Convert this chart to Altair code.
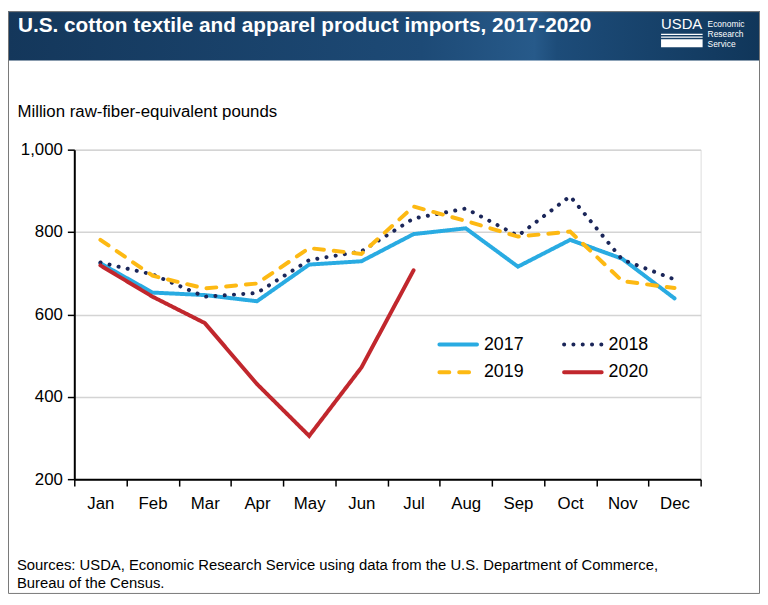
import altair as alt
import pandas as pd

# ---------------- data ----------------
MONTHS = ["Jan", "Feb", "Mar", "Apr", "May", "Jun", "Jul", "Aug", "Sep", "Oct", "Nov", "Dec"]
YEARS = ["2017", "2018", "2019", "2020"]
V2017 = [724, 653, 647, 632, 721, 729, 795, 809, 716, 781, 735, 639]
V2018 = [726, 697, 643, 652, 732, 753, 833, 857, 791, 887, 733, 685]
V2019 = [781, 694, 663, 675, 761, 747, 862, 827, 789, 801, 681, 664]
V2020 = [719, 643, 579, 431, 305, 471, 707]
Y_TICKS = [200, 400, 600, 800, 1000]

TITLE = "U.S. cotton textile and apparel product imports, 2017-2020"
Y_TITLE = "Million raw-fiber-equivalent pounds"
SOURCE_LINES = [
    "Sources: USDA, Economic Research Service using data from the U.S. Department of Commerce,",
    "Bureau of the Census.",
]
LOGO_MAIN = "USDA"
LOGO_SUB = ["Economic", "Research", "Service"]

SERIES = {"2017": V2017, "2018": V2018, "2019": V2019, "2020": V2020}
rows = []
for yr, vals in SERIES.items():
    for m, v in zip(MONTHS, vals):
        rows.append({"month": m, "year": yr, "value": v})
df = pd.DataFrame(rows)

# ---------------- styling ----------------
FONT = "Liberation Sans"
W, H = 633, 333
PAD = {"left": 67, "top": 140, "right": 60, "bottom": 124}

color_scale = alt.Scale(domain=YEARS, range=["#29abe2", "#1b2659", "#fdb913", "#c1272d"])
dash_scale = alt.Scale(domain=YEARS, range=[[1, 0], [0.1, 9.3], [10, 10], [1, 0]])


def one(**kw):
    return pd.DataFrame({k: [v] for k, v in kw.items()}) if kw else pd.DataFrame({"d": [0]})


# header band
grad = alt.LinearGradient(
    gradient="linear",
    stops=[
        alt.GradientStop(color="#14375b", offset=0),
        alt.GradientStop(color="#1d4a76", offset=0.55),
        alt.GradientStop(color="#275a8a", offset=0.7),
        alt.GradientStop(color="#1d4c79", offset=0.73),
        alt.GradientStop(color="#10365a", offset=1),
    ],
    x1=0, x2=1, y1=0, y2=0,
)
header = alt.Chart(one()).mark_rect(fill=grad).encode(
    x=alt.value(-67), x2=alt.value(693), y=alt.value(-140), y2=alt.value(-90)
)

border = alt.Chart(one()).mark_rect(fill="transparent", stroke="#777777", strokeWidth=1).encode(
    x=alt.value(-66.5), x2=alt.value(692.5), y=alt.value(-139.5), y2=alt.value(448.5)
)

title = alt.Chart(one(t=TITLE)).mark_text(
    align="left", baseline="alphabetic", font=FONT, fontSize=21, fontWeight="bold", color="white"
).encode(x=alt.value(-57), y=alt.value(-118.5), text="t:N")

logo_txt = alt.Chart(one(t=LOGO_MAIN)).mark_text(
    align="left", baseline="alphabetic", font=FONT, fontSize=15, color="white"
).encode(x=alt.value(593), y=alt.value(-121.5), text="t:N")

swoosh = [
    alt.Chart(one()).mark_rule(color="white", strokeWidth=1.2).encode(
        x=alt.value(593), x2=alt.value(635), y=alt.value(yy)
    )
    for yy in (-116.5, -113.8)
] + [
    alt.Chart(one()).mark_rect(color="white").encode(
        x=alt.value(593), x2=alt.value(635), y=alt.value(-111.5), y2=alt.value(-103.5)
    )
]

logo_sub = [
    alt.Chart(one(t=s)).mark_text(
        align="left", baseline="alphabetic", font=FONT, fontSize=8.5, color="white"
    ).encode(x=alt.value(640), y=alt.value(-123.5 + i * 10), text="t:N")
    for i, s in enumerate(LOGO_SUB)
]

sources = [
    alt.Chart(one(t=s)).mark_text(
        align="left", baseline="alphabetic", font=FONT, fontSize=15, color="black"
    ).encode(x=alt.value(-58), y=alt.value(424.5 + i * 18), text="t:N")
    for i, s in enumerate(SOURCE_LINES)
]

lines = alt.Chart(df).mark_line(strokeWidth=4, strokeCap="round").encode(
    x=alt.X(
        "month:N",
        sort=MONTHS,
        scale=alt.Scale(type="band", domain=MONTHS, paddingInner=0, paddingOuter=0),
        axis=alt.Axis(
            title=None, labelAngle=0, tickBand="extent", domainColor="black", domainWidth=2,
            tickColor="black", tickWidth=1.5, tickSize=7, labelFontSize=17, labelColor="black",
            labelFont=FONT, labelPadding=10, grid=False,
        ),
    ),
    y=alt.Y(
        "value:Q",
        scale=alt.Scale(domain=[200, 1000], nice=False, zero=False),
        axis=alt.Axis(
            values=Y_TICKS, format=",.0f", title=Y_TITLE, titleAngle=0, titleAlign="left",
            titleBaseline="alphabetic", titleX=-58, titleY=-34, titleFontSize=17,
            titleFontWeight="normal", titleFont=FONT, titleColor="black",
            domainColor="black", domainWidth=2, tickColor="black", tickWidth=1.5, tickSize=7,
            labelFontSize=17, labelColor="black", labelFont=FONT, labelPadding=5,
            grid=True, gridColor="#d4d4d4", gridWidth=1.5,
        ),
    ),
    color=alt.Color("year:N", scale=color_scale, legend=None),
    strokeDash=alt.StrokeDash("year:N", scale=dash_scale, legend=None),
)

legend_layers = []
for i, yr in enumerate(YEARS):
    lx = 369 + (i % 2) * 126
    ly = 197 + (i // 2) * 28
    d = pd.DataFrame({"year": [yr]})
    legend_layers.append(
        alt.Chart(d).mark_rule(strokeWidth=4, strokeCap="round").encode(
            x=alt.value(lx), x2=alt.value(lx + 38), y=alt.value(ly),
            color=alt.Color("year:N", scale=color_scale, legend=None),
            strokeDash=alt.StrokeDash("year:N", scale=dash_scale, legend=None),
        )
    )
    legend_layers.append(
        alt.Chart(d).mark_text(
            align="left", baseline="middle", font=FONT, fontSize=18, color="black"
        ).encode(x=alt.value(lx + 45), y=alt.value(ly), text="year:N")
    )

chart = alt.layer(
    header, *swoosh, title, logo_txt, *logo_sub, border, lines, *legend_layers, *sources
).properties(
    width=W, height=H, padding=PAD, autosize=alt.AutoSizeParams(type="none"), background="white"
).configure_view(strokeWidth=0).configure(font=FONT)

chart.save("out.html", embed_options={"renderer": "svg", "actions": False})
